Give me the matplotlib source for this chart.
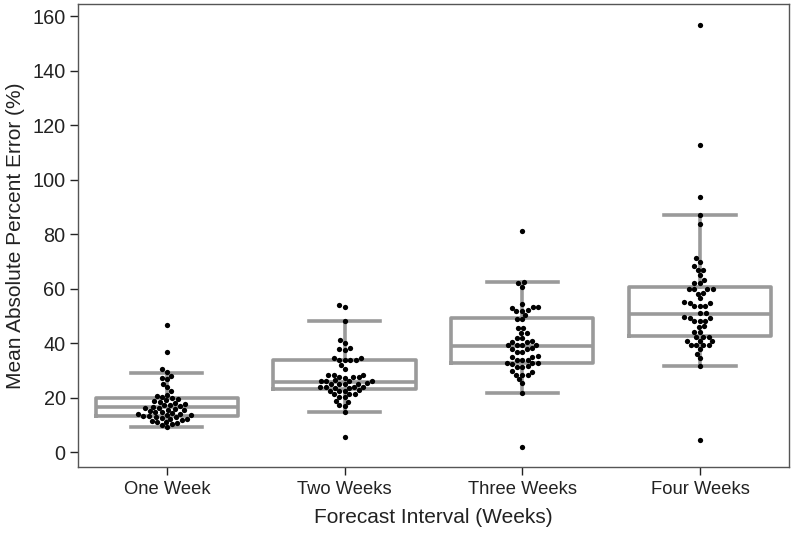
import matplotlib
matplotlib.use("Agg")
import matplotlib.pyplot as plt
import seaborn as sns
import pandas as pd

plt.rcParams['font.family'] = ['Liberation Sans', 'DejaVu Sans']

categories = ['One Week', 'Two Weeks', 'Three Weeks', 'Four Weeks']

# per-forecast MAPE values
one_week = [46.6, 36.6, 30.3, 29.2, 28.0, 27.3, 26.8, 25.0, 23.8, 22.4, 21.0, 20.6,
            20.1, 19.7, 19.4, 19.0, 18.6, 18.3, 17.9, 17.6, 17.4, 17.1, 16.9, 16.6,
            16.3, 16.1, 15.8, 15.6, 15.3, 15.1, 14.8, 14.6, 14.3, 14.1, 13.9, 13.7,
            13.5, 13.3, 13.1, 12.9, 12.7, 12.5, 12.3, 12.0, 11.8, 11.5, 11.2, 10.9,
            10.6, 10.2, 9.8, 9.3]
two_weeks = [53.4, 53.8, 48.1, 41.1, 39.9, 38.0, 38.2, 37.4, 34.4, 34.6, 33.8, 33.6,
             33.9, 33.7, 31.9, 30.3, 28.3, 28.4, 28.2, 27.4, 27.5, 27.3, 27.4, 26.2,
             26.3, 26.1, 26.2, 26.0, 25.0, 25.1, 24.9, 25.0, 25.2, 23.7, 23.8, 23.6,
             23.7, 23.9, 23.5, 22.5, 22.6, 22.4, 22.5, 21.3, 21.4, 21.2, 20.1, 20.2,
             18.5, 18.6, 17.0, 17.1, 14.6, 5.5]
three_weeks = [81.1, 62.5, 62.0, 60.7, 54.3, 53.1, 53.2, 53.0, 51.9, 52.0, 51.8, 50.3,
               48.7, 48.8, 45.4, 45.5, 43.6, 43.7, 41.7, 41.8, 40.5, 40.6, 40.4, 39.3,
               39.4, 39.2, 39.3, 38.0, 38.1, 37.9, 36.8, 36.9, 35.0, 35.1, 34.9, 33.8,
               33.9, 33.7, 32.5, 32.6, 32.4, 32.5, 31.3, 31.4, 31.2, 29.5, 29.6, 28.3,
               28.4, 28.2, 26.7, 25.2, 21.8, 1.9]
four_weeks = [156.7, 112.9, 93.7, 87.2, 83.9, 71.1, 69.8, 68.3, 66.8, 66.9, 65.0, 63.1,
              61.9, 62.0, 59.8, 59.9, 59.7, 59.8, 58.2, 58.3, 56.4, 54.8, 54.9, 54.7,
              53.6, 53.7, 53.5, 50.9, 51.0, 49.3, 49.4, 49.2, 48.1, 48.2, 48.0, 46.0,
              46.1, 44.1, 44.2, 42.3, 42.4, 42.2, 40.8, 40.9, 40.7, 39.3, 39.4, 39.2,
              39.3, 37.7, 36.0, 34.4, 31.6, 4.4]

# box statistics as drawn
q1 = [13.3, 23.0, 32.5, 42.6]
medians = [16.4, 25.7, 39.0, 50.6]
q3 = [19.7, 33.6, 49.1, 60.7]
whis_lo = [9.3, 14.6, 21.8, 31.6]
whis_hi = [28.9, 48.1, 62.5, 87.2]

values = [one_week, two_weeks, three_weeks, four_weeks]
df = pd.DataFrame({
    'interval': [c for c, v in zip(categories, values) for _ in v],
    'mape': [x for v in values for x in v],
})

fig = plt.figure(figsize=(7.96, 5.34), dpi=100)
ax = fig.add_axes([0.098, 0.1255, 0.893, 0.867])

stats = []
for i, name in enumerate(categories):
    stats.append({'label': name, 'q1': q1[i], 'med': medians[i], 'q3': q3[i],
                  'whislo': whis_lo[i], 'whishi': whis_hi[i], 'fliers': []})

grey = '#9a9a9a'
ax.bxp(stats, positions=range(len(categories)), widths=0.8, capwidths=0.4,
       showfliers=False,
       boxprops=dict(color=grey, linewidth=2.6),
       medianprops=dict(color=grey, linewidth=2.6),
       whiskerprops=dict(color=grey, linewidth=2.6),
       capprops=dict(color=grey, linewidth=2.6))

sns.swarmplot(data=df, x='interval', y='mape', order=categories, color='black',
              size=3.8, ax=ax, zorder=5)

ax.set_xlim(-0.5, 3.5)
ax.set_ylim(-5.5, 164.5)
ax.set_yticks(range(0, 161, 20))
ax.set_xticks(range(len(categories)))
ax.set_xticklabels(categories)

ax.set_xlabel('Forecast Interval (Weeks)', fontsize=15, color='#222222', labelpad=7)
ax.set_ylabel('Mean Absolute Percent Error (%)', fontsize=15, color='#222222', labelpad=5)
ax.tick_params(axis='y', labelsize=14.3, colors='#222222', length=6, width=1, pad=3)
ax.tick_params(axis='x', labelsize=13.2, colors='#222222', length=6, width=1, pad=4)
for s in ax.spines.values():
    s.set_color('#555555')
    s.set_linewidth(1)

fig.savefig('out.png', dpi=100)
